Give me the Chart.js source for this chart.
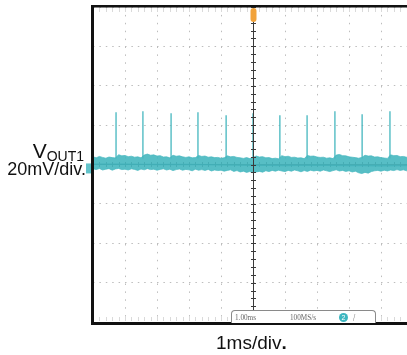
<!DOCTYPE html>
<html>
<head>
<meta charset="utf-8">
<script src="https://cdn.jsdelivr.net/npm/chart.js@4/dist/chart.umd.min.js"></script>
<style>
  html, body { margin: 0; padding: 0; background: #fff; overflow: hidden; width: 407px; height: 355px; }
  #wrap { position: relative; width: 407px; height: 355px; overflow: hidden; }
  canvas { position: absolute; left: 0; top: 0; }
  .lbl { position: absolute; font-family: "Liberation Sans", Arial, sans-serif; color: #111; white-space: nowrap; }
  #info { position: absolute; left: 231px; top: 310px; width: 143px; height: 12px; border: 1px solid #8a8a8a;
          border-bottom: none; border-radius: 4px 4px 0 0; background: #fff; }
  #info span { position: absolute; top: 1px; font-family: "Liberation Serif", serif; font-size: 9px; color: #666;
               transform: scaleX(0.8); transform-origin: left top; }
  #info .ch { left: 107px; top: 2px; width: 9px; height: 9px; border-radius: 50%; background: #3db6c0; color: #fff;
              font-size: 7px; text-align: center; line-height: 9px; transform: none; font-family: "Liberation Sans", sans-serif; }
</style>
</head>
<body>
<div id="wrap">
  <canvas id="scope" width="430" height="355"></canvas>
  <div class="lbl" style="left:0;width:84px;text-align:right;top:140px;font-size:21px;line-height:21px;">V<span style="font-size:14px;position:relative;top:3px;">OUT1</span></div>
  <div class="lbl" style="left:0;width:86px;text-align:right;top:160px;font-size:18px;line-height:18px;">20mV/div.</div>
  <div class="lbl" style="left:216px;top:333px;font-size:19px;line-height:19px;">1ms/div<b>.</b></div>
  <div id="info">
    <span style="left:3px;">1.00ms</span>
    <span style="left:58px;">100MS/s</span>
    <span class="ch">2</span>
    <span style="left:121px;font-size:10px;">/</span>
  </div>
</div>
<script>
// time axis in ms (0 = trigger), voltage in mV (20 mV/div)
const xTicks = [-5, -4, -3, -2, -1, 0, 1, 2, 3, 4, 5];
const yTicks = [-80, -60, -40, -20, 0, 20, 40, 60, 80];

const timeMs = [-5.0,-4.9,-4.8,-4.7,-4.6,-4.5,-4.4,-4.3,-4.2,-4.1,
  -4.0,-3.9,-3.8,-3.7,-3.6,-3.5,-3.4,-3.3,-3.2,-3.1,
  -3.0,-2.9,-2.8,-2.7,-2.6,-2.5,-2.4,-2.3,-2.2,-2.1,
  -2.0,-1.9,-1.8,-1.7,-1.6,-1.5,-1.4,-1.3,-1.2,-1.1,
  -1.0,-0.9,-0.8,-0.7,-0.6,-0.5,-0.4,-0.3,-0.2,-0.1,
  0.0,0.1,0.2,0.3,0.4,0.5,0.6,0.7,0.8,0.9,
  1.0,1.1,1.2,1.3,1.4,1.5,1.6,1.7,1.8,1.9,
  2.0,2.1,2.2,2.3,2.4,2.5,2.6,2.7,2.8,2.9,
  3.0,3.1,3.2,3.3,3.4,3.5,3.6,3.7,3.8,3.9,
  4.0,4.1,4.2,4.3,4.4,4.5,4.6,4.7,4.8,4.9,5.0];

// top edge of the noise band
const bandUpper = [3.9,3.4,4.1,3.6,3.2,3.8,3.5,3.3,5.0,4.4,
  4.6,4.0,4.2,3.7,3.9,3.4,4.8,5.3,4.7,4.9,
  4.3,4.5,3.8,3.9,3.4,4.7,4.2,4.4,3.9,3.6,
  3.9,3.4,3.5,4.6,4.1,4.3,3.7,3.9,3.5,3.6,
  3.2,3.4,4.4,3.9,4.1,3.6,3.4,3.1,3.5,3.0,
  3.6,4.3,3.8,4.0,3.4,3.5,3.0,3.2,2.9,4.5,
  4.0,4.2,3.6,3.7,3.3,3.4,3.0,4.6,4.2,4.3,
  3.8,3.6,3.7,3.2,3.4,3.0,4.8,5.1,4.5,4.4,
  3.9,3.7,3.5,3.2,3.6,4.7,4.3,4.4,3.8,3.9,
  3.5,3.3,3.1,4.9,4.5,4.6,4.0,4.1,3.7,3.8,3.5];

// bottom edge of the noise band
const bandLower = [-2.2,-2.6,-2.0,-2.8,-2.4,-2.1,-2.9,-2.3,-2.0,-2.6,
  -2.4,-2.8,-2.2,-2.5,-3.0,-2.3,-2.7,-2.1,-2.6,-2.4,
  -2.9,-2.5,-2.2,-2.8,-2.4,-3.1,-2.6,-2.3,-2.9,-2.5,
  -2.7,-3.2,-2.4,-2.9,-2.6,-3.0,-2.5,-3.3,-2.8,-3.1,
  -2.9,-3.4,-3.0,-2.7,-3.5,-3.1,-3.8,-3.4,-4.0,-3.6,
  -4.2,-3.8,-3.5,-3.9,-3.2,-3.6,-3.0,-3.4,-2.9,-3.3,
  -3.6,-3.0,-3.4,-2.8,-3.2,-3.7,-3.1,-3.5,-2.9,-3.3,
  -3.0,-3.4,-2.8,-3.2,-3.6,-3.1,-2.7,-3.3,-3.0,-3.5,
  -3.2,-3.8,-3.4,-4.2,-4.6,-4.0,-4.4,-3.6,-3.2,-3.0,
  -3.4,-2.9,-3.3,-2.8,-3.1,-2.6,-3.0,-2.7,-3.2,-2.8,-3.0];

// darker centre of the trace
const coreTimes = [-5, -4, -3, -2, -1, 0, 1, 2, 3, 4, 5];
const coreMv = [0.2, 0.1, 0.0, 0.0, -0.2, -0.4, -0.5, -0.4, -0.5, -0.6, -0.5];

// switching spikes
const spikeTimes = [-4.28, -3.44, -2.56, -1.72, -0.84, 0.0, 0.84, 1.69, 2.56, 3.41, 4.28];
const spikePeaks = [26.5, 27, 26, 26.5, 25, 26, 25, 25, 27, 25.5, 27];
const spikeBase = 3;

const triggerTime = 0;

const teal = '#45b7bf';

const spikePts = [];
spikeTimes.forEach((t, i) => {
  spikePts.push({x: t, y: spikeBase}, {x: t, y: spikePeaks[i]}, {x: t, y: spikeBase}, {x: t, y: null});
});

const scopePlugin = {
  id: 'scope',
  beforeDatasetsDraw(chart) {
    const {ctx, chartArea: a, scales: {x, y}} = chart;
    const y0 = y.getPixelForValue(0);
    ctx.save();
    ctx.strokeStyle = '#555';
    ctx.lineWidth = 1;
    ctx.beginPath();
    ctx.moveTo(a.left, y0); ctx.lineTo(a.right, y0);
    for (let v = -5; v <= 5; v += 0.2) {
      const px = Math.round(x.getPixelForValue(v)) + 0.5;
      ctx.moveTo(px, y0 - 2.5); ctx.lineTo(px, y0 + 2.5);
    }
    ctx.stroke();
    // faint minor ticks along top and bottom edges
    ctx.strokeStyle = '#dadada';
    ctx.beginPath();
    for (let v = -5; v <= 5; v += 0.2) {
      const px = Math.round(x.getPixelForValue(v)) + 0.5;
      ctx.moveTo(px, a.top + 1); ctx.lineTo(px, a.top + 5);
      ctx.moveTo(px, a.bottom - 5); ctx.lineTo(px, a.bottom - 1);
    }
    ctx.stroke();
    ctx.restore();
  },
  afterDatasetsDraw(chart) {
    const {ctx, chartArea: a, scales: {x, y}} = chart;
    const x0 = Math.round(x.getPixelForValue(triggerTime)) + 0.5;
    ctx.save();
    ctx.strokeStyle = '#3a3a3a';
    ctx.lineWidth = 1;
    ctx.beginPath();
    ctx.moveTo(x0, a.top); ctx.lineTo(x0, a.bottom);
    for (let v = -80; v <= 80; v += 4) {
      const py = Math.round(y.getPixelForValue(v)) + 0.5;
      ctx.moveTo(x0 - 2.5, py); ctx.lineTo(x0 + 2.5, py);
    }
    ctx.stroke();
    // frame
    ctx.fillStyle = '#111';
    ctx.fillRect(a.left - 2, a.top - 2, a.right - a.left + 20, 2.5);
    ctx.fillRect(a.left - 2, a.top - 2, 3, a.bottom - a.top + 5);
    ctx.fillRect(a.left - 2, a.bottom, a.right - a.left + 20, 3);
    // trigger marker
    ctx.fillStyle = '#f1a23a';
    ctx.beginPath();
    ctx.roundRect(x0 - 3, a.top + 1, 6, 14, 3);
    ctx.fill();
    // channel marker
    const yc = y.getPixelForValue(-2);
    ctx.fillStyle = '#62c3ca';
    ctx.fillRect(a.left - 7, yc - 5, 5, 10);
    ctx.restore();
  }
};

new Chart(document.getElementById('scope'), {
  type: 'line',
  data: {
    datasets: [
      {
        data: timeMs.map((t, i) => ({x: t, y: bandUpper[i]})),
        borderColor: 'rgba(69,183,191,0.7)', borderWidth: 1, backgroundColor: 'rgba(69,183,191,0.9)',
        fill: '+1', pointRadius: 0, tension: 0
      },
      {
        data: timeMs.map((t, i) => ({x: t, y: bandLower[i]})),
        borderColor: 'rgba(69,183,191,0.7)', borderWidth: 1, fill: false, pointRadius: 0, tension: 0
      },
      {
        data: coreTimes.map((t, i) => ({x: t, y: coreMv[i]})),
        borderColor: 'rgba(20,100,108,0.75)', borderWidth: 1.4, fill: false, pointRadius: 0, tension: 0.3
      },
      {
        data: spikePts,
        borderColor: teal, borderWidth: 1.3, fill: false, pointRadius: 0, tension: 0, spanGaps: false
      }
    ]
  },
  options: {
    responsive: false,
    animation: false,
    devicePixelRatio: 1,
    layout: {padding: {left: 93, top: 7, right: 17, bottom: 33}},
    plugins: {legend: {display: false}, tooltip: {enabled: false}},
    scales: {
      x: {
        type: 'linear', min: xTicks[0], max: xTicks[xTicks.length - 1],
        afterBuildTicks: s => { s.ticks = xTicks.map(v => ({value: v})); },
        ticks: {display: false},
        grid: {color: '#bdbdbd', lineWidth: 1, drawTicks: false},
        border: {display: false, dash: [1.5, 6.4]}
      },
      y: {
        min: yTicks[0], max: yTicks[yTicks.length - 1],
        afterBuildTicks: s => { s.ticks = yTicks.map(v => ({value: v})); },
        ticks: {display: false},
        grid: {color: '#bdbdbd', lineWidth: 1, drawTicks: false},
        border: {display: false, dash: [1.5, 4.9]}
      }
    }
  },
  plugins: [scopePlugin]
});
</script>
</body>
</html>
